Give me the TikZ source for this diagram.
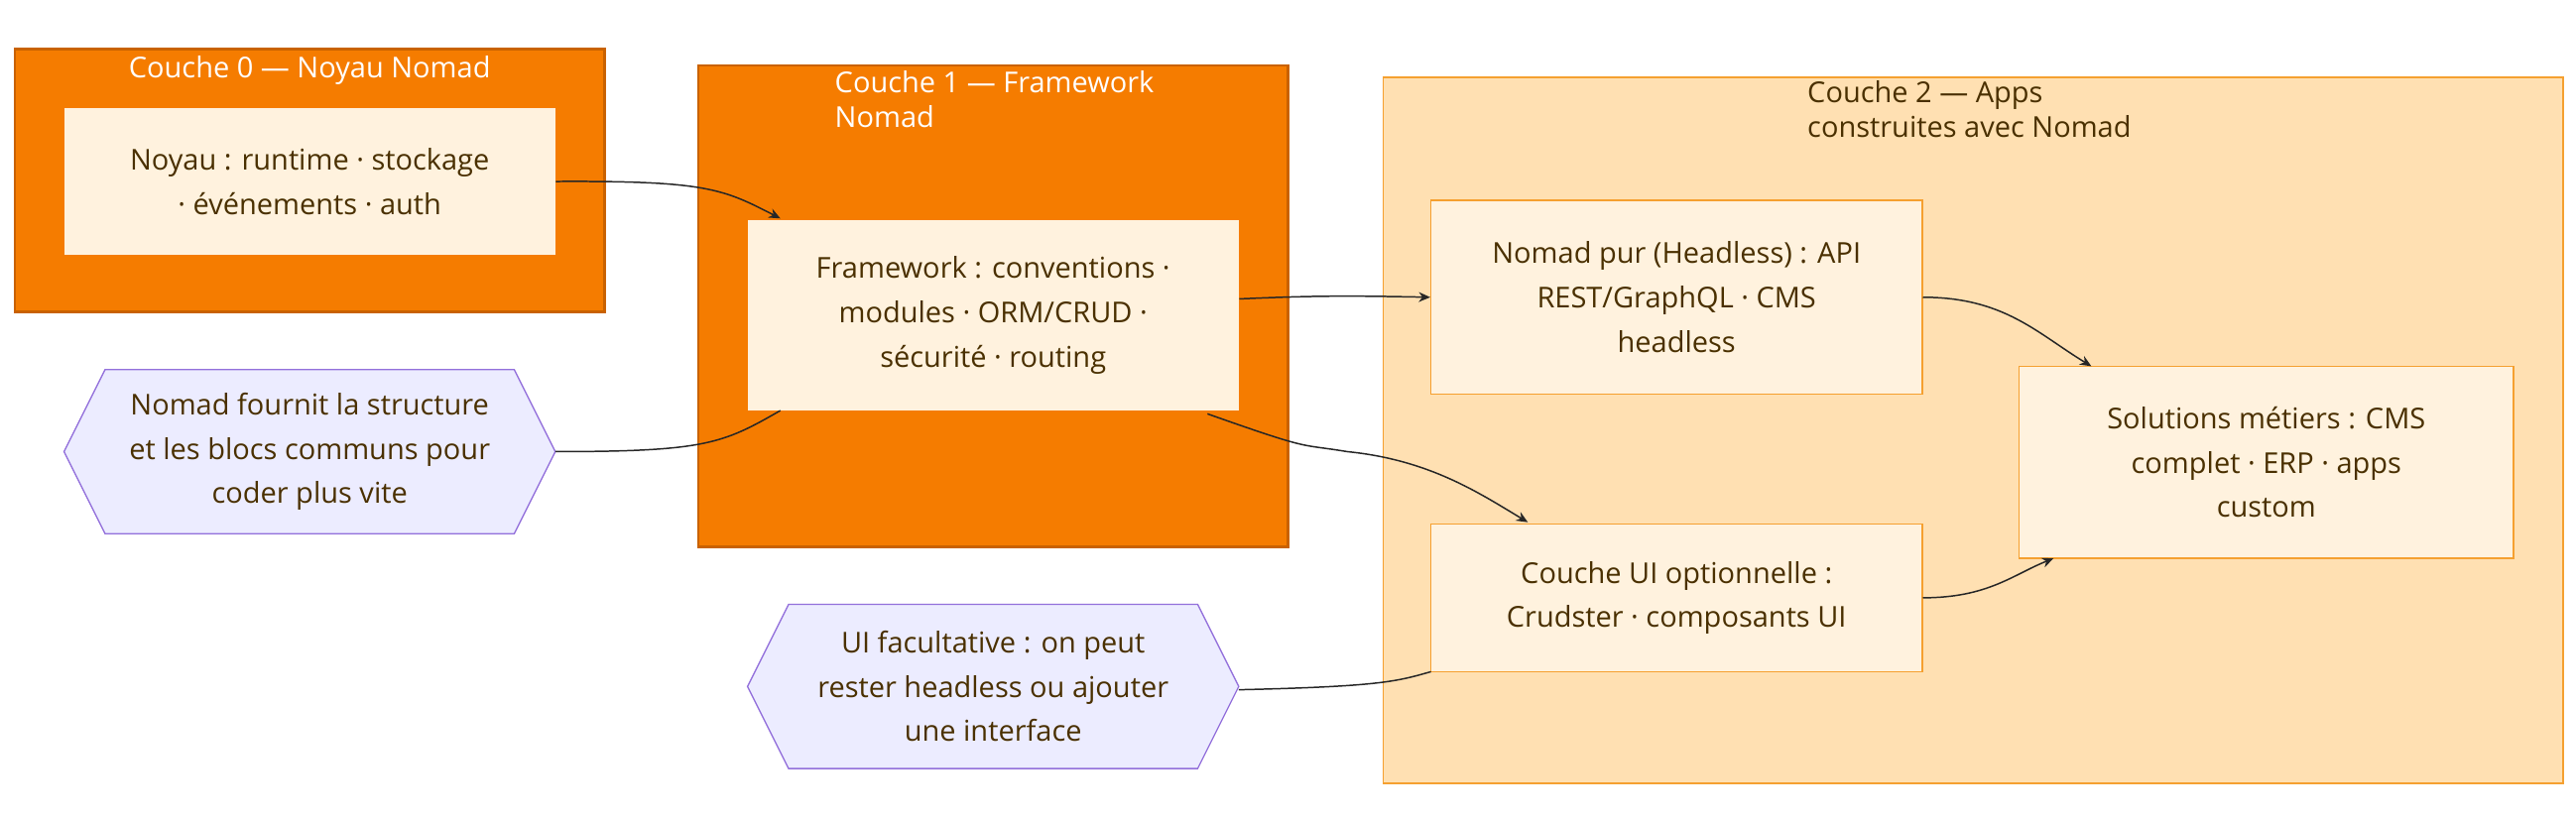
\documentclass[tikz,border=0pt]{standalone}
\usepackage{fontspec}
\setmainfont{Open Sans}
\usetikzlibrary{shapes.geometric,arrows.meta}
\definecolor{org}{HTML}{F57C00}
\definecolor{orgb}{HTML}{C96200}
\definecolor{lt}{HTML}{FFF2DE}
\definecolor{c2}{HTML}{FFE0B2}
\definecolor{c2b}{HTML}{F5A030}
\definecolor{txt}{HTML}{4A3000}
\definecolor{hexf}{HTML}{ECECFF}
\definecolor{hexb}{HTML}{9370DB}
\tikzset{
 box/.style={draw=c2b,fill=lt,line width=0.8pt,minimum width=299pt,align=center,text=txt,font=\fontsize{17.5}{27}\selectfont,inner sep=0pt},
 ed/.style={draw=black!85,line width=0.9pt},
 ar/.style={ed,-{Stealth[length=7pt,width=6pt]}},
 tt/.style={font=\fontsize{17.5}{21}\selectfont,align=left},
 ht/.style={font=\fontsize{17.5}{27}\selectfont,align=center,text=txt}
}
\begin{document}
\begin{tikzpicture}[x=1pt,y=-1pt]
\useasboundingbox (0,0) rectangle (1568,499);
% groups
\path[fill=org,draw=orgb,line width=1.5pt] (9,30) rectangle (368,190);
\node[tt,text=white,anchor=center] (t0) at (188.5,43) {Couche 0 — Noyau Nomad};
\path[fill=org,draw=orgb,line width=1.5pt] (425,40) rectangle (784,333);
\node[tt,text=white,anchor=north west,inner sep=0pt] (t1) at (508,43) {Couche 1 — Framework\\Nomad};
\path[fill=c2,draw=c2b,line width=1pt] (842,47) rectangle (1560,477);
\node[tt,text=txt,anchor=north west,inner sep=0pt] (t2) at (1100,49) {Couche 2 — Apps\\construites avec Nomad};
% nodes
\node[box,draw=none,minimum height=89pt] (noy) at (188.5,110.5) {Noyau : runtime · stockage\\· événements · auth};
\node[box,draw=none,minimum height=116pt] (fw) at (604.5,192) {Framework : conventions ·\\modules · ORM/CRUD ·\\sécurité · routing};
\node[box,minimum height=118pt] (np) at (1020.5,181) {Nomad pur (Headless) : API\\REST/GraphQL · CMS\\headless};
\node[box,minimum height=90pt] (ui) at (1020.5,364) {Couche UI optionnelle :\\Crudster · composants UI};
\node[box,minimum width=301pt,minimum height=117pt] (sol) at (1379.5,281.5) {Solutions métiers : CMS\\complet · ERP · apps\\custom};
% hexagons
\path[draw=hexb,fill=hexf,line width=0.8pt] (39,275) -- (64,225) -- (313,225) -- (338,275) -- (313,325) -- (64,325) -- cycle;
\node[ht] (h1) at (188.5,275) {Nomad fournit la structure\\et les blocs communs pour\\coder plus vite};
\path[draw=hexb,fill=hexf,line width=0.8pt] (455,418) -- (480,368) -- (729,368) -- (754,418) -- (729,468) -- (480,468) -- cycle;
\node[ht] (h2) at (604.5,418) {UI facultative : on peut\\rester headless ou ajouter\\une interface};
\coordinate (h1e) at (338,275);
\coordinate (h2e) at (754,420);
% edges
\draw[ar] (noy.east) .. controls (430,110) and (440,115) .. (475,133);
\draw[ed] (h1e) .. controls (430,275) and (440,270) .. (475,250);
\draw[ar] (fw.east |- 0,182) .. controls (800,180) and (820,180) .. (np.west);
\draw[ar] (735,252) .. controls (800,275) and (790,270) .. (820,275) .. controls (870,280) and (900,300) .. (930,318);
\draw[ar] (np.east) .. controls (1220,181) and (1240,203) .. (1273,223);
\draw[ar] (ui.east) .. controls (1210,364) and (1225,350) .. (1250,340);
\draw[ed] (h2e) .. controls (840,418) and (850,415) .. (871,409);
\end{tikzpicture}
\end{document}
